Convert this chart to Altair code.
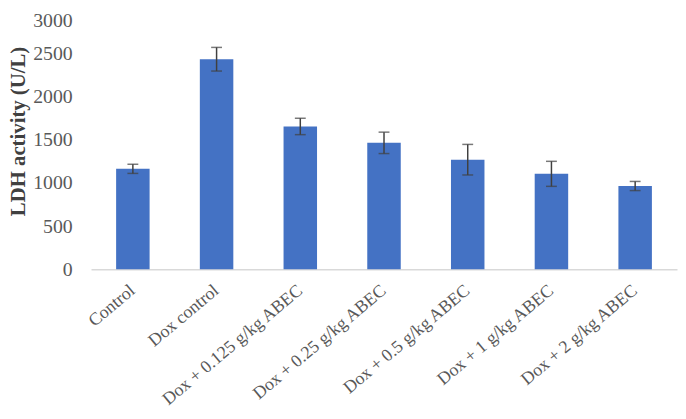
import altair as alt
import pandas as pd

groups = ["Control", "Dox control", "Dox + 0.125 g/kg ABEC", "Dox + 0.25 g/kg ABEC",
          "Dox + 0.5 g/kg ABEC", "Dox + 1 g/kg ABEC", "Dox + 2 g/kg ABEC"]
ldh = [1164, 2434, 1655, 1465, 1270, 1106, 965]
err = [53, 137, 95, 124, 177, 145, 53]
y_ticks = [0, 500, 1000, 1500, 2000, 2500, 3000]

df = pd.DataFrame({"group": groups, "ldh": ldh, "err": err})
df["lo"] = df["ldh"] - df["err"]
df["hi"] = df["ldh"] + df["err"]

FONT = "Liberation Serif"

x = alt.X("group:N", sort=groups, title=None,
          scale=alt.Scale(paddingInner=0.6, paddingOuter=0.3),
          axis=alt.Axis(labelAngle=-40, labelAlign="right", labelBaseline="middle",
                        labelFont=FONT, labelFontSize=18, labelColor="#595959",
                        labelPadding=19, ticks=False, domainColor="#d9d9d9",
                        domainWidth=1.5, labelLimit=300))
y = alt.Y("ldh:Q", title="LDH activity (U/L)",
          scale=alt.Scale(domain=[0, 3000], nice=False),
          axis=alt.Axis(values=y_ticks, format="d", grid=False, ticks=False, domain=False,
                        labelFont=FONT, labelFontSize=20, labelColor="#595959",
                        labelBaseline={"condition": {"test": "datum.value >= 3000", "value": "top"},
                                       "value": "middle"},
                        labelPadding=19, titleFont=FONT, titleFontSize=21,
                        titleFontWeight="bold", titleColor="#404040",
                        titleX=-73, titleY=122, titleBaseline="middle", titleAngle=-90))

bars = alt.Chart(df).mark_bar(color="#4472C4").encode(x=x, y=y)
rules = alt.Chart(df).mark_rule(color="#404040", strokeWidth=1.5).encode(
    x=alt.X("group:N", sort=groups), y="lo:Q", y2="hi:Q")
caps_hi = alt.Chart(df).mark_tick(color="#404040", size=11, thickness=1.5).encode(
    x=alt.X("group:N", sort=groups), y="hi:Q")
caps_lo = alt.Chart(df).mark_tick(color="#404040", size=11, thickness=1.5).encode(
    x=alt.X("group:N", sort=groups), y="lo:Q")

chart = alt.layer(bars, rules, caps_hi, caps_lo).properties(
    width=593, height=262,
    autosize=alt.AutoSizeParams(type="none"),
    padding={"left": 84, "top": 0, "right": 1, "bottom": 141},
).configure_view(stroke=None)

chart.save("out.html", embed_options={"renderer": "svg", "actions": False})
